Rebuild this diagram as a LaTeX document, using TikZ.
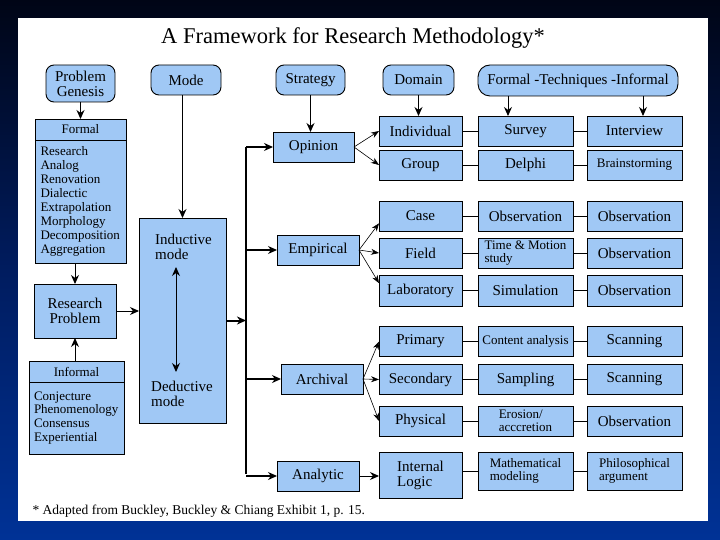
\documentclass[tikz,border=0pt]{standalone}
\usepackage{fontspec}
\setmainfont{Liberation Serif}
\usetikzlibrary{positioning, arrows.meta}
\definecolor{PaleBlue}{RGB}{160,200,245}
\definecolor{NightTop}{RGB}{0,5,22}
\definecolor{NightMid}{RGB}{0,28,95}
\definecolor{NightLow}{RGB}{0,50,150}
\newcommand{\bigtxt}{\fontsize{15}{15}\selectfont}
\newcommand{\smtxt}{\fontsize{13}{13.5}\selectfont}

\begin{document}
\begin{tikzpicture}[x=1pt, y=-1pt,
    box/.style={rectangle, draw=black, line width=0.9pt, fill=PaleBlue,
                inner sep=2pt, outer sep=0pt, align=center, font=\bigtxt},
    head/.style={box, rounded corners=8pt},
    bigtext/.style={font=\bigtxt},
    smalltext/.style={font=\smtxt, align=left},
    listbox/.style={box, align=left, font=\fontsize{13}{13.9}\selectfont},
    arr/.style={-{Stealth[length=9pt, width=8pt]}, line width=1pt},
    thinarr/.style={-{Stealth[length=8pt, width=6pt]}, line width=0.6pt},
    dblarr/.style={{Stealth[length=9pt, width=8pt]}-{Stealth[length=9pt, width=8pt]}, line width=1pt},
    link/.style={line width=0.8pt}
  ]
  \useasboundingbox (0,0) rectangle (720,540);

  % Slide
  \fill[top color=NightTop, bottom color=NightLow, middle color=NightMid] (0,0) rectangle (720,540);
  \fill[white] (18,18) rectangle (708,521);

  \node[font=\fontsize{22.5}{27}\selectfont, anchor=base] (title) at (353,43.5)
        {A Framework for Research Methodology*};

  % Headers
  \node[head, minimum width=69pt, minimum height=37pt] (gen) at (80.5,83.5) {Problem\\Genesis};
  \node[head, minimum width=70pt, minimum height=30pt] (mode) at (186,80) {Mode};
  \node[head, minimum width=69pt, minimum height=30pt] (strat) at (310.5,80) {Strategy};
  \node[head, minimum width=71pt, minimum height=30pt] (dom) at (418.5,80) {Domain};
  \node[head, rounded corners=12pt, minimum width=200pt, minimum height=31pt]
        (tech) at (578,80.5) {Formal -Techniques -Informal};

  % Problem genesis
  \node[box, font=\smtxt, minimum width=91pt, minimum height=21pt] (formhd) at (80.5,129.5) {Formal};
  \node[listbox, below=0pt of formhd, minimum width=91pt, minimum height=123pt,
        text width=80pt, inner xsep=5.5pt] (formlist)
        {Research\\Analog\\Renovation\\Dialectic\\Extrapolation\\Morphology\\Decomposition\\Aggregation};
  \node[box, minimum width=82pt, minimum height=54pt] (rp) at (75,311) {Research\\Problem};
  \node[box, font=\smtxt, minimum width=95pt, minimum height=21pt] (infhd) at (76.5,371.5) {Informal};
  \node[listbox, below=0pt of infhd, minimum width=95pt, minimum height=72pt,
        text width=85pt, inner xsep=5pt] (inflist)
        {Conjecture\\Phenomenology\\Consensus\\Experiential};
  \draw[arr] (gen) -- (formhd);
  \draw[arr] (formlist.south -| rp) -- (rp.north);
  \draw[arr] (infhd.north -| rp) -- (rp.south);

  % Mode
  \node[box, minimum width=87pt, minimum height=205pt] (ind) at (182.5,320.5) {};
  \node[font=\bigtxt, align=left, anchor=west, inner sep=0pt] (indtxt) at (155,246.5) {Inductive\\mode};
  \node[font=\bigtxt, align=left, anchor=west, inner sep=0pt] (dedtxt) at (151,394) {Deductive\\mode};
  \coordinate (indtip) at (176,267);
  \coordinate (dedtip) at (176,372);
  \draw[dblarr] (indtip) -- (dedtip);
  \draw[arr] (mode.south -| ind.north) -- (ind.north);
  \draw[arr] (rp.east) -- (rp.east -| ind.west);

  % Strategy
  \node[box, minimum width=81pt, minimum height=30pt] (opin) at (313.5,147) {Opinion};
  \node[box, minimum width=82pt, minimum height=30pt] (emp) at (318,250) {Empirical};
  \node[box, minimum width=82pt, minimum height=30pt] (arch) at (322,379) {Archival};
  \node[box, minimum width=82pt, minimum height=30pt] (anal) at (318,476) {Analytic};
  \draw[arr] (strat.south) -- (strat.south |- opin.north);

  \coordinate (bustop) at (246,147);
  \coordinate (busbot) at (246,474);
  \draw[line width=2.5pt] (bustop) -- (busbot);
  \draw[arr, line width=2pt] (ind.east) -- (ind.east -| bustop);
  \foreach \s in {opin, emp, arch, anal}
    \draw[arr, line width=1.3pt] (bustop |- \s.west) -- (\s.west);

  % Domain and techniques
  \foreach \nm/\y/\h/\d/\t/\tf/\u/\uf in {
      indiv/131/30/Individual/Survey/bigtext/Interview/bigtext,
      group/165/30/Group/Delphi/bigtext/Brainstorming/smalltext,
      case/216/30/Case/Observation/bigtext/Observation/bigtext,
      field/253/30/Field/{Time \& Motion\\study}/smalltext/Observation/bigtext,
      lab/290.5/31/Laboratory/Simulation/bigtext/Observation/bigtext,
      prim/341.5/30/Primary/Content analysis/smalltext/Scanning/bigtext,
      sec/379.5/30/Secondary/Sampling/bigtext/Scanning/bigtext,
      phys/421/30/Physical/{Erosion/\\acccretion}/smalltext/Observation/bigtext} {
    \node[box, minimum width=83pt, minimum height=\h pt] (d-\nm) at (420.5,\y) {\d};
    \node[box, \tf, minimum width=95pt, minimum height=\h pt] (t-\nm) at (525.5,\y) {\t};
    \node[box, \uf, minimum width=95pt, minimum height=\h pt] (u-\nm) at (634.5,\y) {\u};
    \draw[link] (d-\nm) -- (t-\nm);
    \draw[link] (t-\nm) -- (u-\nm);
  }
  \node[box, align=left, minimum width=83pt, minimum height=46pt] (d-logic) at (420.5,475) {Internal\\Logic};
  \node[box, smalltext, minimum width=95pt, minimum height=38pt] (t-logic) at (525.5,471) {Mathematical\\modeling};
  \node[box, smalltext, minimum width=95pt, minimum height=38pt] (u-logic) at (634.5,471) {Philosophical\\argument};
  \draw[link] (d-logic.east |- t-logic) -- (t-logic);
  \draw[link] (t-logic) -- (u-logic);

  \coordinate (survtop) at ([xshift=-17.5pt]t-indiv.north);
  \coordinate (intvtop) at ([xshift=8.5pt]u-indiv.north);
  \draw[arr] (dom.south) -- (dom.south |- d-indiv.north);
  \draw[arr] (tech.south -| survtop) -- (survtop);
  \draw[arr] (tech.south -| intvtop) -- (intvtop);

  % Strategy to domain
  \draw[thinarr] (opin.east) -- (d-indiv.west);
  \draw[thinarr] (opin.east) -- (d-group.west);
  \draw[thinarr] (emp.east) -- (d-case.190);
  \draw[thinarr] (emp.east) -- (d-field.west);
  \draw[thinarr] (emp.east) -- (d-lab.170);
  \draw[thinarr] (arch.east) -- (d-prim.west);
  \draw[thinarr] (arch.east) -- (d-sec.west);
  \draw[thinarr] (arch.east) -- (d-phys.west);
  \draw[arr] (anal.east) -- (anal.east -| d-logic.west);

  \node[font=\fontsize{13.5}{15}\selectfont, anchor=base west] (note) at (29,514)
        {* Adapted from Buckley, Buckley \& Chiang Exhibit 1, p. 15.};
\end{tikzpicture}
\end{document}
